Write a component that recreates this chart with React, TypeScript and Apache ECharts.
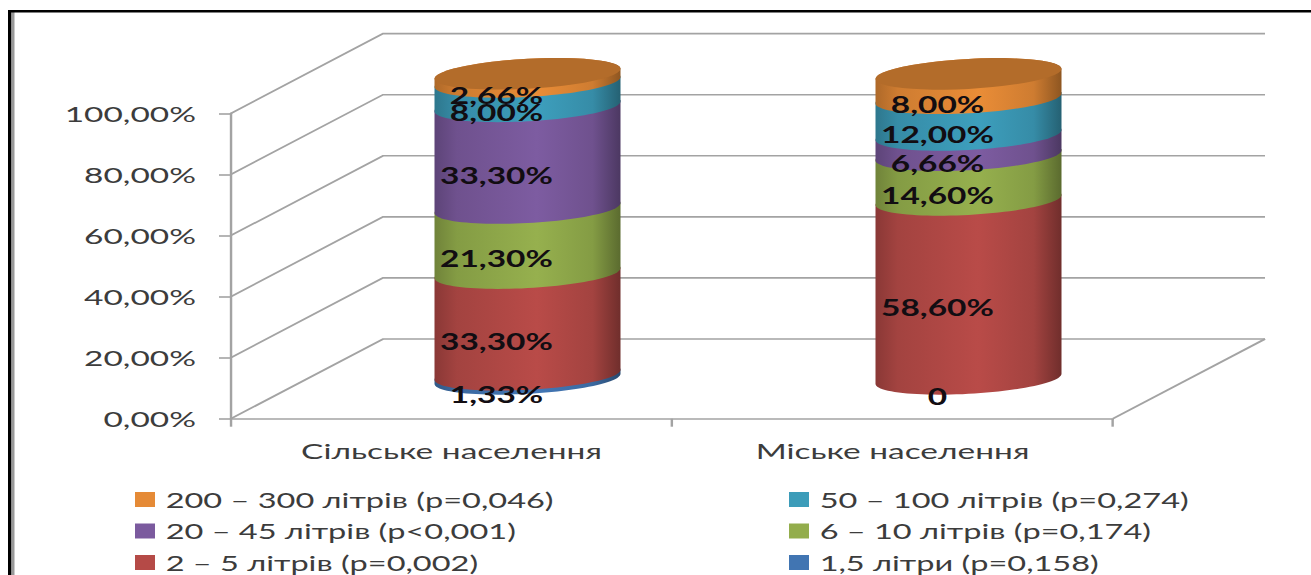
import React, { useEffect, useRef } from "react";
import * as echarts from "echarts";

// The whole drawing is laid out in a narrower space and widened with one CSS scale,
// which gives the broad lettering and flattened cylinders of this chart.
const STRETCH = 1.52;
const WIDTH = 1311;
const HEIGHT = 575;

const categories = ["Сільське населення", "Міське населення"];
const valueTicks = [0, 20, 40, 60, 80, 100];

const litres1_5 = [1.33, 0];
const litres2_5 = [33.3, 58.6];
const litres6_10 = [21.3, 14.6];
const litres20_45 = [33.3, 6.66];
const litres50_100 = [8.0, 12.0];
const litres200_300 = [2.66, 8.0];

const bandNames = [
  "1,5 літри (p=0,158)",
  "2 – 5 літрів (p=0,002)",
  "6 – 10 літрів (p=0,174)",
  "20 – 45 літрів (p<0,001)",
  "50 – 100 літрів (p=0,274)",
  "200 – 300 літрів (p=0,046)",
];
const bandValues = [litres1_5, litres2_5, litres6_10, litres20_45, litres50_100, litres200_300];
const bandColors = ["#4175b2", "#b54a47", "#93ad4c", "#7b5a9e", "#3c9cb9", "#e58a36"];

const FONT = "Lato";
const DEPTH_X = 152 / STRETCH;
const DEPTH_Y = -79.7;
const RADIUS_X = 93 / STRETCH;
const RADIUS_Y = 15;
const TILT = 5;

function shade(hex: string, k: number) {
  const n = parseInt(hex.slice(1), 16);
  const c = [(n >> 16) & 255, (n >> 8) & 255, n & 255].map((v) => Math.min(255, Math.round(v * k)));
  return `rgb(${c[0]},${c[1]},${c[2]})`;
}

function arc(cx: number, cy: number, from: number, to: number) {
  const pts: number[][] = [];
  const steps = 48;
  for (let i = 0; i <= steps; i++) {
    const t = from + ((to - from) * i) / steps;
    pts.push([cx + RADIUS_X * Math.cos(t), cy - TILT * Math.cos(t) + RADIUS_Y * Math.sin(t)]);
  }
  return pts;
}

function formatPercent(v: number) {
  return v === 0 ? "0" : `${v.toFixed(2).replace(".", ",")}%`;
}

function cylinderSeries(bandIndex: number) {
  const color = bandColors[bandIndex];
  const isTop = bandIndex === bandValues.length - 1;
  const data = bandValues[bandIndex].map((v, cat) => {
    let base = 0;
    for (let b = 0; b < bandIndex; b++) base += bandValues[b][cat];
    return [cat, base, base + v, v];
  });
  return {
    type: "custom",
    name: bandNames[bandIndex],
    coordinateSystem: "cartesian2d",
    itemStyle: { color },
    encode: { x: 0, y: [1, 2] },
    data,
    renderItem: (_params: any, api: any) => {
      const cat = api.value(0);
      const lo = api.coord([cat, api.value(1)]);
      const hi = api.coord([cat, api.value(2)]);
      const value = api.value(3);
      const cx = lo[0] + DEPTH_X / 2;
      const yLo = lo[1] + DEPTH_Y / 2;
      const yHi = hi[1] + DEPTH_Y / 2;
      const children: any[] = [];
      if (value > 0) {
        children.push({
          type: "polygon",
          shape: { points: [...arc(cx, yLo, Math.PI, 0), ...arc(cx, yHi, 0, -Math.PI)] },
          style: {
            fill: new echarts.graphic.LinearGradient(0, 0, 1, 0, [
              { offset: 0, color: shade(color, 0.76) },
              { offset: 0.12, color: shade(color, 0.9) },
              { offset: 0.55, color: shade(color, 1.02) },
              { offset: 0.85, color: shade(color, 0.9) },
              { offset: 1, color: shade(color, 0.62) },
            ]),
          },
        });
      }
      if (isTop) {
        children.push({
          type: "polygon",
          shape: { points: arc(cx, yHi, 0, Math.PI * 2) },
          style: { fill: shade(color, 0.78) },
        });
      }
      const mid = api.coord([cat, (api.value(1) + api.value(2)) / 2]);
      children.push({
        type: "text",
        z2: 100,
        style: {
          x: cx - 31 / STRETCH,
          y: mid[1] + DEPTH_Y / 2 + 18,
          text: formatPercent(value),
          font: `bold 22px ${FONT}`,
          fill: "#120d12",
          align: "center",
          verticalAlign: "middle",
        },
      });
      return { type: "group", children };
    },
  };
}

// Side wall and back wall gridlines, one for every value tick, plus the floor's right edge.
const wallSeries = {
  type: "custom",
  coordinateSystem: "cartesian2d",
  silent: true,
  encode: { x: 0, y: 1 },
  data: valueTicks.map((v) => [0, v]),
  renderItem: (params: any, api: any) => {
    const value = api.value(1);
    const y = api.coord([0, value])[1];
    const left = params.coordSys.x;
    const right = left + params.coordSys.width;
    const lineStyle = { stroke: "#a3a3a3", lineWidth: 1.6, fill: "none" };
    const children: any[] = [
      {
        type: "polyline",
        shape: { points: [[left, y], [left + DEPTH_X, y + DEPTH_Y], [right + DEPTH_X, y + DEPTH_Y]] },
        style: lineStyle,
      },
    ];
    if (value === 0) {
      children.push({
        type: "line",
        shape: { x1: right, y1: y, x2: right + DEPTH_X, y2: y + DEPTH_Y },
        style: lineStyle,
      });
    }
    return { type: "group", children };
  },
};

function legendColumn(left: number, names: string[]) {
  return {
    orient: "vertical",
    left: left / STRETCH,
    top: 488.5,
    height: 120,
    padding: 0,
    itemWidth: 20 / STRETCH,
    itemHeight: 15,
    itemGap: 9.5,
    icon: "rect",
    selectedMode: false,
    data: names,
    textStyle: {
      fontFamily: FONT,
      fontSize: 21.4,
      lineHeight: 22,
      color: "#3c3c3c",
      padding: [0, 0, 0, 2],
    },
  };
}

const axisLine = { show: true, lineStyle: { color: "#a3a3a3", width: 1.6 } };

export default function App() {
  const ref = useRef<HTMLDivElement>(null);

  useEffect(() => {
    const chart = echarts.init(ref.current!, undefined, { renderer: "svg" });
    chart.setOption({
      animation: false,
      backgroundColor: "#ffffff",
      tooltip: { show: false },
      grid: { left: 231 / STRETCH, width: 882 / STRETCH, top: 113.3, height: 305.4 },
      legend: [
        legendColumn(135, [bandNames[5], bandNames[3], bandNames[1]]),
        legendColumn(789, [bandNames[4], bandNames[2], bandNames[0]]),
      ],
      xAxis: {
        type: "category",
        data: categories,
        axisLine,
        axisTick: { show: true, length: 8, lineStyle: { color: "#a3a3a3", width: 1.6 } },
        axisLabel: { fontFamily: FONT, fontSize: 22, color: "#3c3c3c", margin: 21 },
      },
      yAxis: {
        type: "value",
        min: 0,
        max: 100,
        interval: 20,
        splitLine: { show: false },
        axisLine,
        axisTick: { show: true, length: 12 / STRETCH, lineStyle: { color: "#a3a3a3", width: 1.6 } },
        axisLabel: {
          fontFamily: FONT,
          fontSize: 22,
          color: "#3c3c3c",
          margin: 35 / STRETCH,
          formatter: (v: number) => `${v.toFixed(2).replace(".", ",")}%`,
        },
      },
      graphic: [
        { type: "rect", silent: true, shape: { x: 8 / STRETCH, y: 10, width: 3.5 / STRETCH, height: HEIGHT }, style: { fill: "#000000" } },
        { type: "rect", silent: true, shape: { x: 11.5 / STRETCH, y: 12, width: 3 / STRETCH, height: HEIGHT }, style: { fill: "#9a9a9a" } },
        { type: "rect", silent: true, shape: { x: 8 / STRETCH, y: 10, width: WIDTH / STRETCH, height: 2.6 }, style: { fill: "#000000" } },
      ],
      series: [wallSeries, ...bandValues.map((_, i) => cylinderSeries(i))],
    });
    return () => chart.dispose();
  }, []);

  return (
    <div style={{ position: "absolute", left: 0, top: 0, width: WIDTH, height: HEIGHT, overflow: "hidden", background: "#fff" }}>
      <div
        ref={ref}
        style={{ width: WIDTH / STRETCH, height: HEIGHT, transform: `scaleX(${STRETCH})`, transformOrigin: "0 0" }}
      />
    </div>
  );
}
